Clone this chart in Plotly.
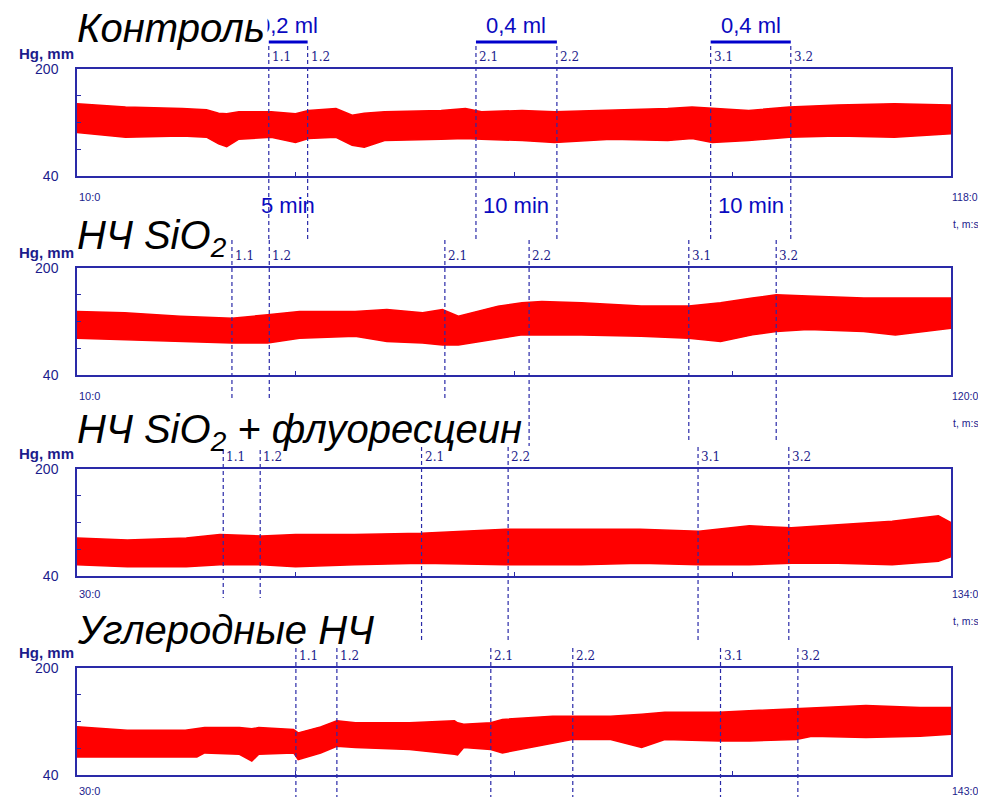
import plotly.graph_objects as go

# ---------------- data ----------------
titles = ["Контроль", "НЧ SiO<sub>2</sub>", "НЧ SiO<sub>2</sub> + флуоресцеин", "Углеродные НЧ"]
x_ranges = [(10, 118), (10, 120), (30, 134), (30, 143)]
x_start_labels = ["10:0", "10:0", "30:0", "30:0"]
x_end_labels = ["118:0", "120:0", "134:0", "143:0"]
marker_names = ["1.1", "1.2", "2.1", "2.2", "3.1", "3.2"]

# panel 1 : Контроль  (envelope of the pressure trace, mm Hg)
t1 = [10, 16, 23, 26, 27.5, 28.5, 30, 34, 37, 38.6, 42, 44, 45.5, 48, 55, 58, 60, 65, 69, 76, 83, 86, 88.5, 93, 98, 104, 111, 118]
hi1 = [148, 143, 141, 139, 134, 133, 136, 136, 133, 138, 141, 131, 134, 136, 138, 141, 136, 138, 136, 138, 141, 143, 141, 138, 143, 146, 148, 146]
lo1 = [105, 98, 100, 98, 88, 84, 95, 98, 90, 96, 98, 86, 83, 93, 95, 96, 95, 93, 90, 95, 93, 96, 90, 93, 98, 100, 98, 103]

# panel 2 : НЧ SiO2
t2 = [10, 16, 23, 29.5, 34, 38, 45, 49, 53.5, 56, 58, 63, 66, 68.5, 73.5, 81, 87, 91, 95, 98, 102, 109, 113, 120]
hi2 = [135, 133, 128, 125, 130, 135, 135, 138, 133, 138, 128, 143, 148, 150, 148, 143, 143, 148, 155, 160, 158, 155, 155, 155]
lo2 = [95, 93, 90, 88, 88, 95, 98, 90, 88, 85, 85, 95, 100, 100, 100, 98, 95, 90, 100, 105, 108, 105, 100, 110]

# panel 3 : НЧ SiO2 + флуоресцеин
t3 = [30, 36, 43, 47, 52, 56, 63, 71, 81, 90, 97, 104, 110, 115, 120.5, 127, 132.5, 134]
hi3 = [97, 94, 97, 102, 100, 102, 102, 104, 110, 110, 110, 107, 115, 112, 117, 122, 130, 120]
lo3 = [57, 54, 54, 57, 57, 54, 57, 59, 57, 57, 59, 57, 57, 59, 59, 57, 62, 69]

# panel 4 : Углеродные НЧ
t4 = [30, 36.5, 44, 45.5, 46.5, 51, 52.6, 53.5, 58, 58.6, 61.5, 63.6, 66, 73, 78.8, 79.2, 80, 83.5, 85, 91.5, 94, 99, 103, 106, 113, 117, 123, 125, 132, 139, 143]
hi4 = [112, 107, 107, 110, 111, 111, 109, 111, 108, 103, 112, 121, 118, 118, 121, 118, 116, 118, 123, 128, 128, 128, 131, 134, 134, 136, 139, 141, 144, 141, 141]
lo4 = [67, 67, 67, 67, 73, 71, 61, 71, 73, 63, 73, 83, 81, 78, 71, 70, 81, 78, 73, 88, 93, 93, 81, 93, 91, 91, 93, 98, 96, 98, 101]

# injection marks (minutes) for each panel
marks1 = [33.7, 38.5, 59.3, 69.3, 88.3, 98.2]
marks2 = [29.5, 34.2, 56.3, 66.9, 87.0, 98.0]
marks3 = [47.4, 51.8, 71.0, 81.3, 103.9, 114.7]
marks4 = [58.3, 63.6, 83.5, 94.1, 113.2, 123.2]

dose_labels = ["0,2 ml", "0,4 ml", "0,4 ml"]
duration_labels = ["5 min", "10 min", "10 min"]
y_min, y_max = 40, 200

# ---------------- layout helpers ----------------
# the page has an 8px body margin: figure is 978x789 placed at (8, 8)
OFF = 8
W, H = 978, 789
def fy(p):
    return 1 - (p - OFF) / H
def fx(p):
    return (p - OFF) / W

BLUE = "#2a2aa8"
TXT = "#1c1c8c"
RED = "#ff0000"

panel_top = [69, 268, 469, 668]
panel_h = 107
mark_spans = [
    [(46, 242)] * 6,
    [(240, 400), (240, 400), (240, 400), (240, 446), (240, 440), (240, 440)],
    [(450, 598), (450, 598), (447, 640), (447, 640), (447, 640), (447, 640)],
    [(648, 805)] * 6,
]
end_label_y = [197, 396, 594, 791]

T = [t1, t2, t3, t4]
HI = [hi1, hi2, hi3, hi4]
LO = [lo1, lo2, lo3, lo4]
MARKS = [marks1, marks2, marks3, marks4]

fig = go.Figure()
shapes = []
annotations = []
layout_axes = {}

for i in range(4):
    n = "" if i == 0 else str(i + 1)
    xa, ya = "x" + n, "y" + n
    x0, x1 = x_ranges[i]
    fig.add_trace(go.Scatter(x=T[i], y=LO[i], xaxis=xa, yaxis=ya, mode="lines",
                             line=dict(color=RED, width=1.5), showlegend=False, hoverinfo="skip"))
    fig.add_trace(go.Scatter(x=T[i], y=HI[i], xaxis=xa, yaxis=ya, mode="lines",
                             line=dict(color=RED, width=1.5), fill="tonexty", fillcolor=RED,
                             showlegend=False, hoverinfo="skip"))
    top = panel_top[i]
    bot = top + panel_h
    q = (x1 - x0) / 4
    layout_axes["xaxis" + n] = dict(
        domain=[fx(77), fx(951)], anchor=ya, range=[x0, x1], automargin=False,
        showgrid=False, zeroline=False, showline=True, linecolor=BLUE, linewidth=1.5,
        mirror=True, ticks="inside", ticklen=4, tickcolor=BLUE,
        tickvals=[x0 + q, x0 + 2 * q, x0 + 3 * q], showticklabels=False, fixedrange=True)
    layout_axes["yaxis" + n] = dict(
        domain=[fy(bot), fy(top)], anchor=xa, range=[y_min, y_max], automargin=False,
        showgrid=False, zeroline=False, showline=True, linecolor=BLUE, linewidth=1.5,
        mirror=True, ticks="inside", ticklen=4, tickcolor=BLUE,
        tickvals=[40, 80, 120, 160, 200], ticktext=["40", "", "", "", "200"],
        tickfont=dict(family="Liberation Sans", size=14, color=TXT),
        ticklabelstandoff=14, fixedrange=True)

    # dashed injection marks + their labels
    for k, t in enumerate(MARKS[i]):
        ya0, ya1 = mark_spans[i][k]
        shapes.append(dict(type="line", xref=xa, yref="paper", x0=t, x1=t,
                           y0=fy(ya0), y1=fy(ya1),
                           line=dict(color=BLUE, width=1.2, dash="4px,3px")))
        annotations.append(dict(xref=xa, yref="paper", x=t, y=fy(top - 12), xanchor="left",
                                yanchor="middle", xshift=1, showarrow=False, text=marker_names[k],
                                font=dict(family="DejaVu Serif", size=12, color=TXT)))

    # x labels
    annotations.append(dict(xref="paper", yref="paper", x=fx(77), y=fy(end_label_y[i]), xanchor="left",
                            yanchor="middle", showarrow=False, text=x_start_labels[i],
                            font=dict(family="Liberation Sans", size=11, color=TXT)))
    annotations.append(dict(xref="paper", yref="paper", x=fx(950), y=fy(end_label_y[i]), xanchor="left",
                            yanchor="middle", showarrow=False, text=x_end_labels[i],
                            font=dict(family="Liberation Sans", size=10.5, color=TXT)))
    if i < 3:
        annotations.append(dict(xref="paper", yref="paper", x=fx(951), y=fy(end_label_y[i] + 27),
                                xanchor="left", yanchor="middle", showarrow=False, text="t, m:s",
                                font=dict(family="Liberation Sans", size=10.5, color=TXT)))

# brackets and dose/duration labels (panel 1)
for j in range(3):
    a, b = marks1[2 * j], marks1[2 * j + 1]
    shapes.append(dict(type="line", xref="x", yref="paper", x0=a, x1=b, y0=fy(42), y1=fy(42),
                       line=dict(color="#0000cc", width=3)))
    annotations.append(dict(xref="x", yref="paper", x=(a + b) / 2, y=fy(26), xanchor="center",
                            yanchor="middle", showarrow=False, text=dose_labels[j],
                            font=dict(family="Liberation Sans", size=22, color="#0a0ac0")))
    annotations.append(dict(xref="x", yref="paper", x=(a + b) / 2, y=fy(205), xanchor="center",
                            yanchor="middle", showarrow=False, text=duration_labels[j],
                            font=dict(family="Liberation Sans", size=22, color="#0a0ac0")))

# titles (drawn after the dose labels, white background hides the "0")
title_centers = [28, 238, 432, 630]
for i in range(4):
    annotations.append(dict(xref="paper", yref="paper", x=fx(74), y=fy(title_centers[i]),
                            xanchor="left", yanchor="middle", showarrow=False,
                            text="<i>" + titles[i] + "</i>",
                            bgcolor="white" if i == 0 else None, borderpad=2,
                            font=dict(family="Liberation Sans", size=40, color="black")))

# "Hg, mm" labels
for i in range(4):
    annotations.append(dict(xref="paper", yref="paper", x=fx(76), y=fy(panel_top[i] - 16),
                            xanchor="right", yanchor="middle", showarrow=False,
                            text="<b>Hg, mm</b>",
                            font=dict(family="Liberation Sans", size=15, color=TXT)))

fig.update_layout(
    template="none",
    width=W, height=H, margin=dict(l=0, r=0, t=0, b=0, pad=0), autosize=False,
    paper_bgcolor="white", plot_bgcolor="white",
    shapes=shapes, annotations=annotations, **layout_axes)

fig.write_html("out.html")
